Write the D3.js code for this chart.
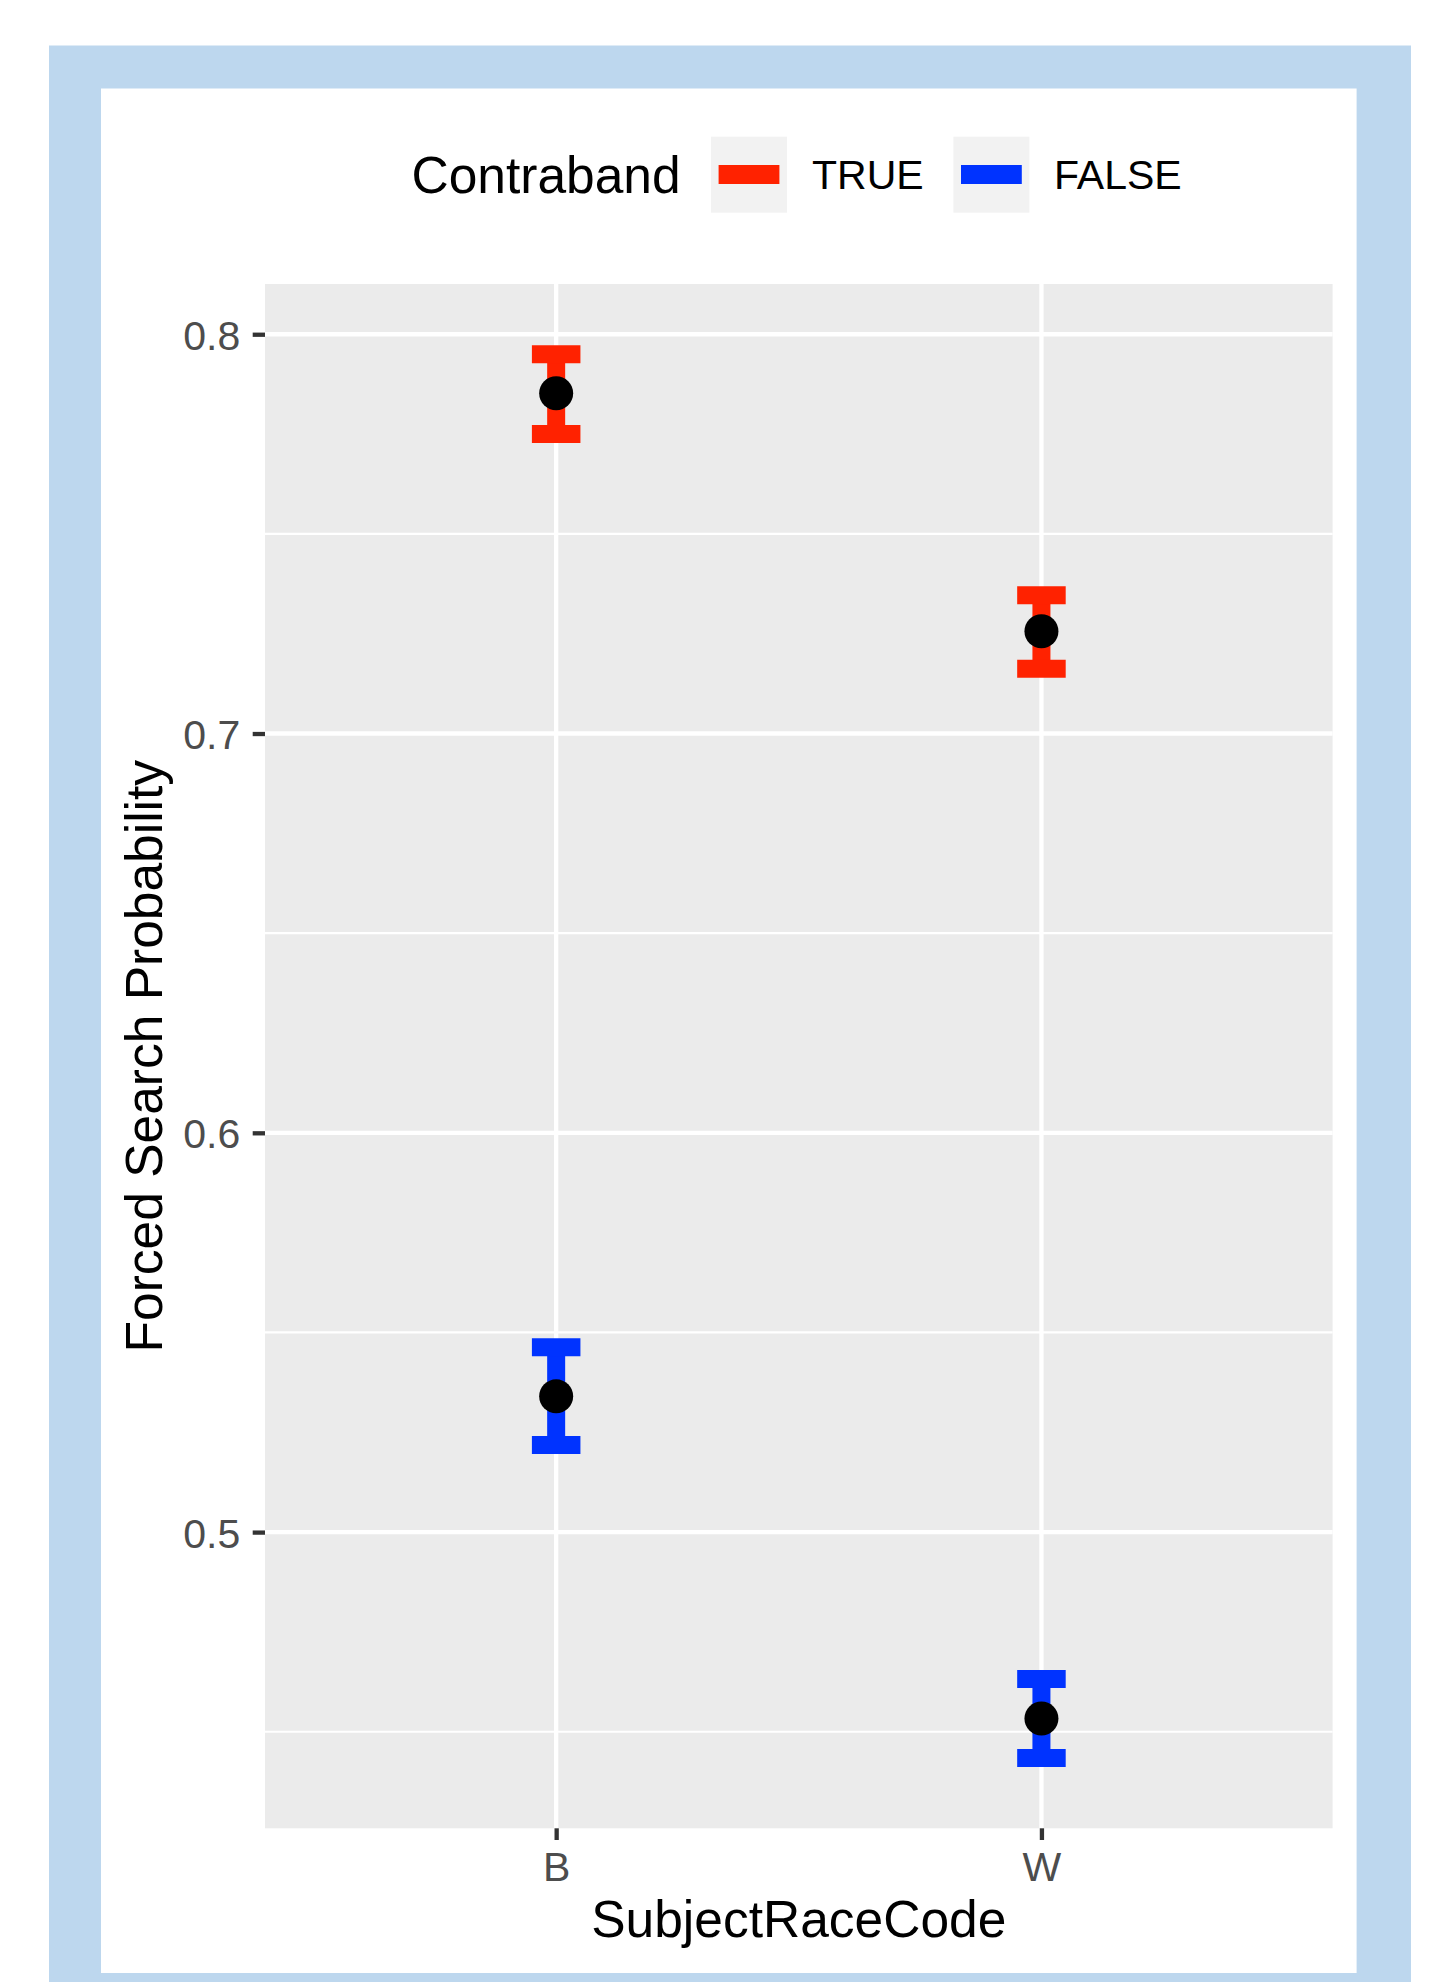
<!DOCTYPE html>
<html>
<head>
<meta charset="utf-8">
<script src="https://cdn.jsdelivr.net/npm/d3@7"></script>
<style>
  html, body { margin: 0; padding: 0; background: #ffffff; }
  svg { display: block; }
  text { font-family: "Liberation Sans", Arial, Helvetica, sans-serif; }
</style>
</head>
<body>
<script>
// ---- data ----
const categories = ["B", "W"];
const groups = ["TRUE", "FALSE"];
const groupColors = ["#FF2200", "#0033FF"];
const estTRUE = [0.7852, 0.7256];
const lowTRUE = [0.7750, 0.7162];
const highTRUE = [0.7950, 0.7346];
const estFALSE = [0.5340, 0.4533];
const lowFALSE = [0.5218, 0.4434];
const highFALSE = [0.5463, 0.4632];
const yMajorTicks = [0.5, 0.6, 0.7, 0.8];
const yMinorTicks = [0.45, 0.55, 0.65, 0.75];
const xTitle = "SubjectRaceCode";
const yTitle = "Forced Search Probability";
const legendTitle = "Contraband";

const rows = [];
categories.forEach((c, i) => {
  rows.push({cat: c, grp: "TRUE", est: estTRUE[i], lo: lowTRUE[i], hi: highTRUE[i]});
  rows.push({cat: c, grp: "FALSE", est: estFALSE[i], lo: lowFALSE[i], hi: highFALSE[i]});
});

// ---- layout ----
const W = 1450, H = 1982;
const panel = {left: 265, right: 1332.6, top: 284, bottom: 1828.3};

const svg = d3.select("body").append("svg").attr("width", W).attr("height", H);

// outer frame
svg.append("rect").attr("x", 0).attr("y", 0).attr("width", W).attr("height", H).attr("fill", "#ffffff");
svg.append("rect").attr("x", 49).attr("y", 45.5).attr("width", 1411 - 49).attr("height", H - 45.5).attr("fill", "#BDD7EE");
svg.append("rect").attr("x", 101).attr("y", 88.5).attr("width", 1356.6 - 101).attr("height", 1973 - 88.5).attr("fill", "#ffffff");

// scales
const allVals = rows.flatMap(r => [r.lo, r.hi]);
const ext = d3.extent(allVals);
const pad = (ext[1] - ext[0]) * 0.05;
const y = d3.scaleLinear().domain([ext[0] - pad, ext[1] + pad]).range([panel.bottom, panel.top]);
const x = d3.scalePoint().domain(categories).range([panel.left, panel.right]).padding(0.6);
const color = d3.scaleOrdinal().domain(groups).range(groupColors);

// panel background
svg.append("rect").attr("x", panel.left).attr("y", panel.top)
  .attr("width", panel.right - panel.left).attr("height", panel.bottom - panel.top)
  .attr("fill", "#EBEBEB");

// grid
const grid = svg.append("g");
grid.selectAll(".minor").data(yMinorTicks).enter().append("line")
  .attr("x1", panel.left).attr("x2", panel.right)
  .attr("y1", d => y(d)).attr("y2", d => y(d))
  .attr("stroke", "#ffffff").attr("stroke-width", 2.2);
grid.selectAll(".major").data(yMajorTicks).enter().append("line")
  .attr("x1", panel.left).attr("x2", panel.right)
  .attr("y1", d => y(d)).attr("y2", d => y(d))
  .attr("stroke", "#ffffff").attr("stroke-width", 4.3);
grid.selectAll(".vmajor").data(categories).enter().append("line")
  .attr("x1", d => x(d)).attr("x2", d => x(d))
  .attr("y1", panel.top).attr("y2", panel.bottom)
  .attr("stroke", "#ffffff").attr("stroke-width", 4.3);

// axes
const yAxis = d3.axisLeft(y).tickValues(yMajorTicks).tickFormat(d3.format(".1f")).tickSize(12.3).tickPadding(12.5);
const gy = svg.append("g").attr("transform", `translate(${panel.left},0)`).call(yAxis);
gy.select(".domain").remove();
gy.selectAll(".tick line").attr("stroke", "#333333").attr("stroke-width", 4.3);
gy.selectAll(".tick text").attr("fill", "#4D4D4D").attr("font-size", 41)
  .attr("font-family", "'Liberation Sans', Arial, sans-serif").attr("dy", "0.37em");

const xAxis = d3.axisBottom(x).tickSize(11.7).tickPadding(10);
const gx = svg.append("g").attr("transform", `translate(0,${panel.bottom})`).call(xAxis);
gx.select(".domain").remove();
gx.selectAll(".tick line").attr("stroke", "#333333").attr("stroke-width", 4.3);
gx.selectAll(".tick text").attr("fill", "#4D4D4D").attr("font-size", 41)
  .attr("font-family", "'Liberation Sans', Arial, sans-serif").attr("dy", null)
  .attr("y", 1881 - panel.bottom);

// error bars
const capHalf = x.step() * 0.05;
const eb = svg.append("g");
rows.forEach(r => {
  const cx = x(r.cat), c = color(r.grp);
  eb.append("line").attr("x1", cx).attr("x2", cx).attr("y1", y(r.lo)).attr("y2", y(r.hi))
    .attr("stroke", c).attr("stroke-width", 18);
  [r.lo, r.hi].forEach(v => {
    eb.append("line").attr("x1", cx - capHalf).attr("x2", cx + capHalf)
      .attr("y1", y(v)).attr("y2", y(v)).attr("stroke", c).attr("stroke-width", 18);
  });
});
svg.append("g").selectAll("circle").data(rows).enter().append("circle")
  .attr("cx", d => x(d.cat)).attr("cy", d => y(d.est)).attr("r", 17).attr("fill", "#000000");

// axis titles
svg.append("text").attr("x", (panel.left + panel.right) / 2).attr("y", 1937)
  .attr("text-anchor", "middle").attr("font-size", 51.5).attr("fill", "#000").text(xTitle);
svg.append("text").attr("transform", `translate(162,${(panel.top + panel.bottom) / 2}) rotate(-90)`)
  .attr("text-anchor", "middle").attr("font-size", 51.5).attr("fill", "#000").text(yTitle);

// legend
const lg = svg.append("g");
lg.append("text").attr("x", 411.5).attr("y", 193).attr("font-size", 51.5).attr("fill", "#000").text(legendTitle);
const keyX = [711, 953.4];
const labX = [812, 1054];
groups.forEach((g, i) => {
  lg.append("rect").attr("x", keyX[i]).attr("y", 136.7).attr("width", 76).attr("height", 76).attr("fill", "#F2F2F2");
  lg.append("line").attr("x1", keyX[i] + 7.6).attr("x2", keyX[i] + 68.4)
    .attr("y1", 174.5).attr("y2", 174.5).attr("stroke", color(g)).attr("stroke-width", 19);
  lg.append("text").attr("x", labX[i]).attr("y", 189.3).attr("font-size", 41).attr("fill", "#000").text(g);
});
</script>
</body>
</html>
